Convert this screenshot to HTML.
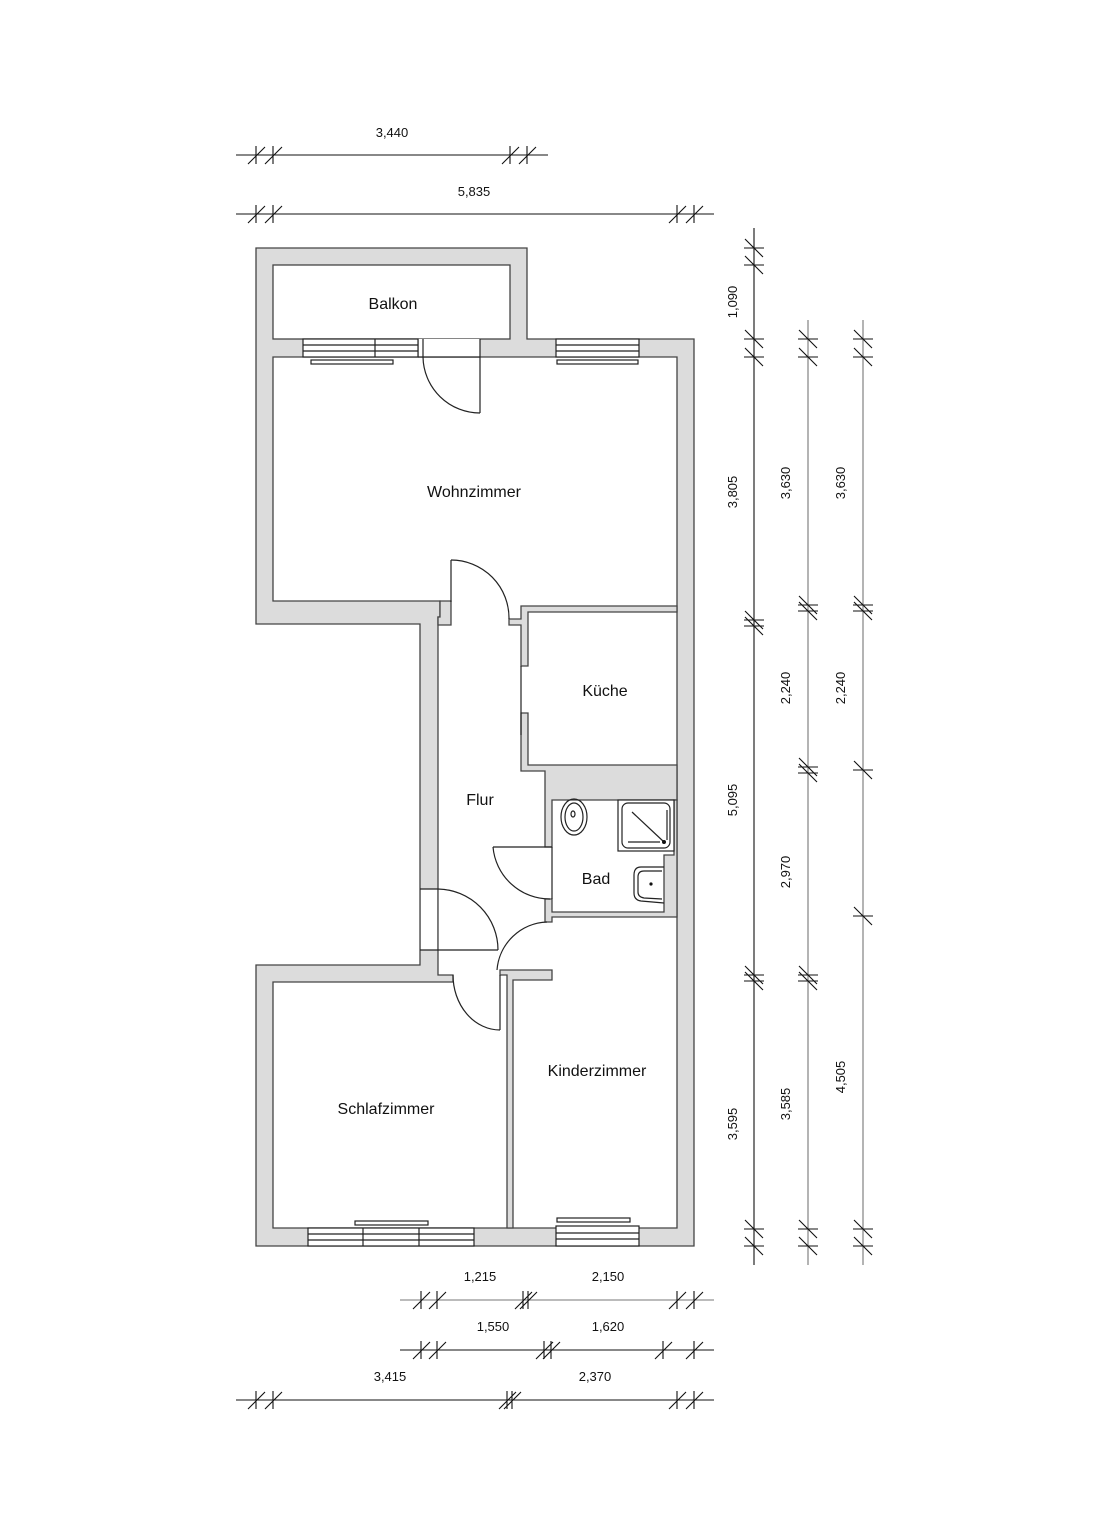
<!DOCTYPE html>
<html><head><meta charset="utf-8"><style>
html,body{margin:0;padding:0;background:#fff;}
svg{display:block;}
text{font-family:"Liberation Sans",sans-serif;fill:#111;}
</style></head><body>
<svg width="1109" height="1538" viewBox="0 0 1109 1538" xmlns="http://www.w3.org/2000/svg">
<g stroke="#444" stroke-width="1.3" fill="#dcdcdc" stroke-linejoin="miter">
<!-- outer shell -->
<polygon points="256,248 527,248 527,339 694,339 694,1246 256,1246 256,965 420,965 420,624 256,624"/>
<!-- balkon -->
<rect x="273" y="265" width="237" height="74" fill="#fff"/>
<!-- interior union -->
<polygon fill="#fff" points="273,357 677,357 677,1228 273,1228 273,982 453,982 453,975 438,975 438,617 440,617 440,601 273,601"/>
<!-- jamb left -->
<polygon points="440,601 451,601 451,625 438,625 438,617 440,617"/>
<!-- right jamb + kitchen top wall -->
<polygon points="509,619 521,619 521,606 677,606 677,612 528,612 528,666 521,666 521,625 509,625"/>
<!-- kitchen lower wall + bad top -->
<polygon points="521,713 528,713 528,765 677,765 677,800 552,800 552,847 545,847 545,771 521,771"/>
<!-- bad lower wall -->
<polygon points="545,899 552,899 552,912 664,912 664,855 674,855 674,800 677,800 677,917 552,917 552,922 545,922"/>
<!-- stub + schlaf/kinder wall -->
<polygon points="500,970 552,970 552,980 513,980 513,1228 507,1228 507,975 500,975"/>
</g>
<g stroke="#222" stroke-width="1.2" fill="none">
<!-- kitchen sliding line -->
<line x1="521" y1="666" x2="521" y2="735"/>
<!-- balkon door -->
<rect x="418" y="339" width="62" height="18" fill="#fff" stroke="none"/>
<line x1="418" y1="339" x2="418" y2="357"/><line x1="423" y1="339" x2="423" y2="357"/><line x1="480" y1="339" x2="480" y2="413"/>
<line x1="418" y1="357" x2="480" y2="357"/>
<path d="M423,357 A57,57 0 0 0 480,413"/>
<!-- top-left window -->
<rect x="303" y="339" width="115" height="18" fill="#fff"/>
<line x1="303" y1="345" x2="418" y2="345"/><line x1="303" y1="351" x2="418" y2="351"/>
<line x1="375" y1="339" x2="375" y2="357"/>
<rect x="311" y="360" width="82" height="4" fill="#fff"/>
<!-- top-right window -->
<rect x="556" y="339" width="83" height="18" fill="#fff"/>
<line x1="556" y1="345" x2="639" y2="345"/><line x1="556" y1="351" x2="639" y2="351"/>
<rect x="557" y="360" width="81" height="4" fill="#fff"/>
<!-- bottom windows -->
<rect x="308" y="1228" width="166" height="18" fill="#fff"/>
<line x1="308" y1="1234" x2="474" y2="1234"/><line x1="308" y1="1240" x2="474" y2="1240"/>
<line x1="363" y1="1228" x2="363" y2="1246"/><line x1="419" y1="1228" x2="419" y2="1246"/>
<rect x="355" y="1221" width="73" height="4" fill="#fff"/>
<rect x="556" y="1226" width="83" height="20" fill="#fff"/>
<line x1="556" y1="1233" x2="639" y2="1233"/><line x1="556" y1="1239" x2="639" y2="1239"/>
<rect x="557" y="1218" width="73" height="4" fill="#fff"/>
<!-- Wohn-Flur door -->
<line x1="451" y1="560" x2="451" y2="602"/>
<path d="M451,560 A58,58 0 0 1 509,619"/>
<!-- Bad door -->
<line x1="493" y1="847" x2="552" y2="847"/>
<line x1="552" y1="847" x2="552" y2="899"/>
<path d="M493,847 A57,57 0 0 0 550,899"/>
<!-- left door -->
<rect x="421" y="889" width="16" height="61" fill="#fff" stroke="none"/>
<line x1="420" y1="889" x2="438" y2="889"/>
<line x1="420" y1="950" x2="498" y2="950"/>
<path d="M438,889 A61,61 0 0 1 498,950"/>
<!-- kinder door -->
<path d="M497,970 A52,52 0 0 1 547,922"/>
<!-- schlaf door -->
<line x1="500" y1="975" x2="500" y2="1030"/>
<path d="M453,975 A47,55 0 0 0 500,1030"/>
<!-- bad fixtures -->
<ellipse cx="574" cy="817" rx="13" ry="18"/>
<ellipse cx="574" cy="817" rx="9" ry="14"/>
<ellipse cx="573" cy="814" rx="2" ry="3"/>
<rect x="618" y="800" width="56" height="51" fill="#fff"/>
<rect x="622" y="803" width="48" height="45" rx="6"/>
<line x1="632" y1="812" x2="664" y2="842"/>
<line x1="628" y1="842" x2="660" y2="842"/>
<line x1="667" y1="810" x2="667" y2="840"/>
<path d="M664,867 L641,867 Q634,867 634,875 L634,893 Q634,900 641,901 L664,903"/>
<path d="M662,871 L644,871 Q638,871 638,877 L638,892 Q638,897 644,898 L662,899"/>
</g>
<circle cx="664" cy="842" r="2" fill="#111"/>
<circle cx="651" cy="884" r="1.6" fill="#111"/>
<g font-size="16" text-anchor="middle">
<text x="393" y="309">Balkon</text>
<text x="474" y="497">Wohnzimmer</text>
<text x="605" y="696">Küche</text>
<text x="480" y="805">Flur</text>
<text x="596" y="884">Bad</text>
<text x="597" y="1076">Kinderzimmer</text>
<text x="386" y="1114">Schlafzimmer</text>
</g>
<!-- dimensions -->
<g stroke="#111" stroke-width="1.1" fill="none">
<line x1="236" y1="155" x2="548" y2="155"/>
<line x1="236" y1="214" x2="714" y2="214"/>
<line x1="400" y1="1300" x2="714" y2="1300" stroke="#777"/>
<line x1="400" y1="1350" x2="714" y2="1350"/>
<line x1="236" y1="1400" x2="714" y2="1400"/>
<line x1="754" y1="228" x2="754" y2="1265"/>
<line x1="808" y1="320" x2="808" y2="1265" stroke="#777"/>
<line x1="863" y1="320" x2="863" y2="1265" stroke="#777"/>
</g>
<g stroke="#111" stroke-width="1.1">
<!-- horizontal ticks: helper paths -->
<path d="M256,146V164M248,164L265,147M273,146V164M265,164L282,147M510,146V164M502,164L519,147M527,146V164M519,164L536,147"/>
<path d="M256,205V223M248,223L265,206M273,205V223M265,223L282,206M677,205V223M669,223L686,206M694,205V223M686,223L703,206"/>
<path d="M421,1291V1309M413,1309L430,1292M437,1291V1309M429,1309L446,1292M523,1291V1309M515,1309L532,1292M528,1291V1309M520,1309L537,1292M677,1291V1309M669,1309L686,1292M694,1291V1309M686,1309L703,1292"/>
<path d="M421,1341V1359M413,1359L430,1342M437,1341V1359M429,1359L446,1342M544,1341V1359M536,1359L553,1342M551,1341V1359M543,1359L560,1342M663,1341V1359M655,1359L672,1342M694,1341V1359M686,1359L703,1342"/>
<path d="M256,1391V1409M248,1409L265,1392M273,1391V1409M265,1409L282,1392M507,1391V1409M499,1409L516,1392M512,1391V1409M504,1409L521,1392M677,1391V1409M669,1409L686,1392M694,1391V1409M686,1409L703,1392"/>
<!-- vertical ticks -->
<path d="M744,248H764M745,239L763,257M744,265H764M745,256L763,274M744,339H764M745,330L763,348M744,357H764M745,348L763,366M744,620H764M745,611L763,629M744,626H764M745,617L763,635M744,975H764M745,966L763,984M744,981H764M745,972L763,990M744,1229H764M745,1220L763,1238M744,1246H764M745,1237L763,1255"/>
<path d="M798,339H818M799,330L817,348M798,357H818M799,348L817,366M798,605H818M799,596L817,614M798,611H818M799,602L817,620M798,767H818M799,758L817,776M798,773H818M799,764L817,782M798,975H818M799,966L817,984M798,981H818M799,972L817,990M798,1229H818M799,1220L817,1238M798,1246H818M799,1237L817,1255"/>
<path d="M853,339H873M854,330L872,348M853,357H873M854,348L872,366M853,605H873M854,596L872,614M853,611H873M854,602L872,620M853,770H873M854,761L872,779M853,916H873M854,907L872,925M853,1229H873M854,1220L872,1238M853,1246H873M854,1237L872,1255"/>
</g>
<g font-size="13" text-anchor="middle">
<text x="392" y="137">3,440</text>
<text x="474" y="196">5,835</text>
<text x="480" y="1281">1,215</text>
<text x="608" y="1281">2,150</text>
<text x="493" y="1331">1,550</text>
<text x="608" y="1331">1,620</text>
<text x="390" y="1381">3,415</text>
<text x="595" y="1381">2,370</text>
<text transform="translate(737,302) rotate(-90)">1,090</text>
<text transform="translate(737,492) rotate(-90)">3,805</text>
<text transform="translate(737,800) rotate(-90)">5,095</text>
<text transform="translate(737,1124) rotate(-90)">3,595</text>
<text transform="translate(790,483) rotate(-90)">3,630</text>
<text transform="translate(790,688) rotate(-90)">2,240</text>
<text transform="translate(790,872) rotate(-90)">2,970</text>
<text transform="translate(790,1104) rotate(-90)">3,585</text>
<text transform="translate(845,483) rotate(-90)">3,630</text>
<text transform="translate(845,688) rotate(-90)">2,240</text>
<text transform="translate(845,1077) rotate(-90)">4,505</text>
</g>
</svg>
</body></html>
